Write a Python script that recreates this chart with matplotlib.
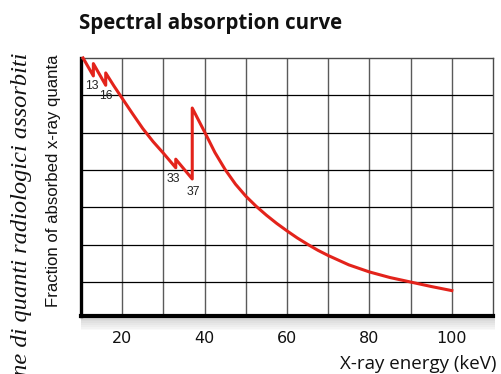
import matplotlib
matplotlib.use('Agg')
import matplotlib.pyplot as plt
from matplotlib.patches import Rectangle

# --- Data ---
energy_kev = [10.5, 13, 13, 16, 16, 18, 20, 22.5, 25, 27.5, 30, 33, 33, 37, 37,
              40, 42.5, 45, 47.5, 50, 52.5, 55, 57.5, 60, 62.5, 65, 67.5, 70,
              75, 80, 85, 90, 95, 100]
absorbed = [7.0, 6.52, 6.85, 6.27, 6.6, 6.25, 5.92, 5.51, 5.11, 4.76, 4.45, 4.06, 4.29, 3.76, 5.66,
            5.02, 4.47, 4.01, 3.62, 3.30, 3.03, 2.79, 2.57, 2.37, 2.18, 2.01, 1.85, 1.71,
            1.46, 1.27, 1.12, 1.0, 0.88, 0.77]
edge_energies = [13, 16, 33, 37]
edge_values = [6.52, 6.27, 4.06, 3.76]
edge_labels = ["13", "16", "33", "37"]
x_ticks = [20, 40, 60, 80, 100]
x_ticklabels = ["20", "40", "60", "80", "100"]

W, H = 501, 374
fig = plt.figure(figsize=(W / 100, H / 100), dpi=100)
fig.patch.set_facecolor('white')

ax_l, ax_r, ax_t, ax_b = 81, 493, 58, 316
ax = fig.add_axes([ax_l / W, 1 - ax_b / H, (ax_r - ax_l) / W, (ax_b - ax_t) / H])
ax.set_zorder(2)

# soft drop shadow under the plot box
for i in range(1, 9):
    fig.patches.append(Rectangle((ax_l / W, (H - ax_b - i * 1.8) / H), (ax_r - ax_l + 2) / W, (i * 1.8) / H,
                                 transform=fig.transFigure, facecolor='black', alpha=0.025,
                                 edgecolor='none', zorder=0))

ax.set_xlim(10, 110)
ax.set_ylim(0.09, 7)

ax.plot(energy_kev, absorbed, color='#e3231b', lw=2.2, solid_joinstyle='round',
        clip_on=False, zorder=5)

for e, v, lab in zip(edge_energies, edge_values, edge_labels):
    dx = {"13": -1, "16": 0, "33": -2, "37": 1.5}[lab]
    dy = {"13": -10.5, "16": -11, "33": -11.5, "37": -13.5}[lab]
    ax.annotate(lab, (e, v), xytext=(dx, dy), textcoords='offset pixels',
                ha='center', va='center', fontsize=8.8, color='#222222',
                family='Liberation Sans', zorder=6)

# grid
ax.set_xticks(x_ticks)
ax.set_xticklabels(x_ticklabels)
ax.set_xticks(range(30, 110, 20), minor=True)
ax.set_yticks(range(1, 7))
ax.set_yticklabels([])
ax.grid(True, axis='x', which='both', color='#5a5a5a', lw=1.0)
ax.grid(True, axis='y', which='major', color='black', lw=0.9)
ax.set_axisbelow(True)
ax.tick_params(axis='both', which='both', length=0)
ax.tick_params(axis='x', pad=11, labelsize=11.5, labelcolor='#111111')
for lab in ax.get_xticklabels():
    lab.set_family('DejaVu Sans')

ax.spines['left'].set_linewidth(2.4)
ax.spines['left'].set_color('black')
ax.spines['bottom'].set_linewidth(3.0)
ax.spines['bottom'].set_color('black')
for s in ('top', 'right'):
    ax.spines[s].set_linewidth(1.0)
    ax.spines[s].set_color('#4a4a4a')

# texts
fig.text(79 / W, 1 - 23 / H, "Spectral absorption curve", ha='left', va='center',
         fontsize=14.8, fontweight='bold', family='Open Sans', color='#111111')
fig.text(497 / W, 1 - 364 / H, "X-ray energy (keV)", ha='right', va='center',
         fontsize=13.5, family='Open Sans', color='#111111')
fig.text(54 / W, 1 - 181 / H, "Fraction of absorbed x-ray quanta", rotation=90,
         ha='center', va='center', fontsize=12.1, family='Liberation Sans', color='#111111')
fig.text(22 / W, 1 - 53 / H, "Frazione di quanti radiologici assorbiti", rotation=90,
         ha='center', va='top', fontsize=17.6, family='Liberation Serif', style='italic',
         color='#111111')

fig.savefig('out.png', dpi=100)
